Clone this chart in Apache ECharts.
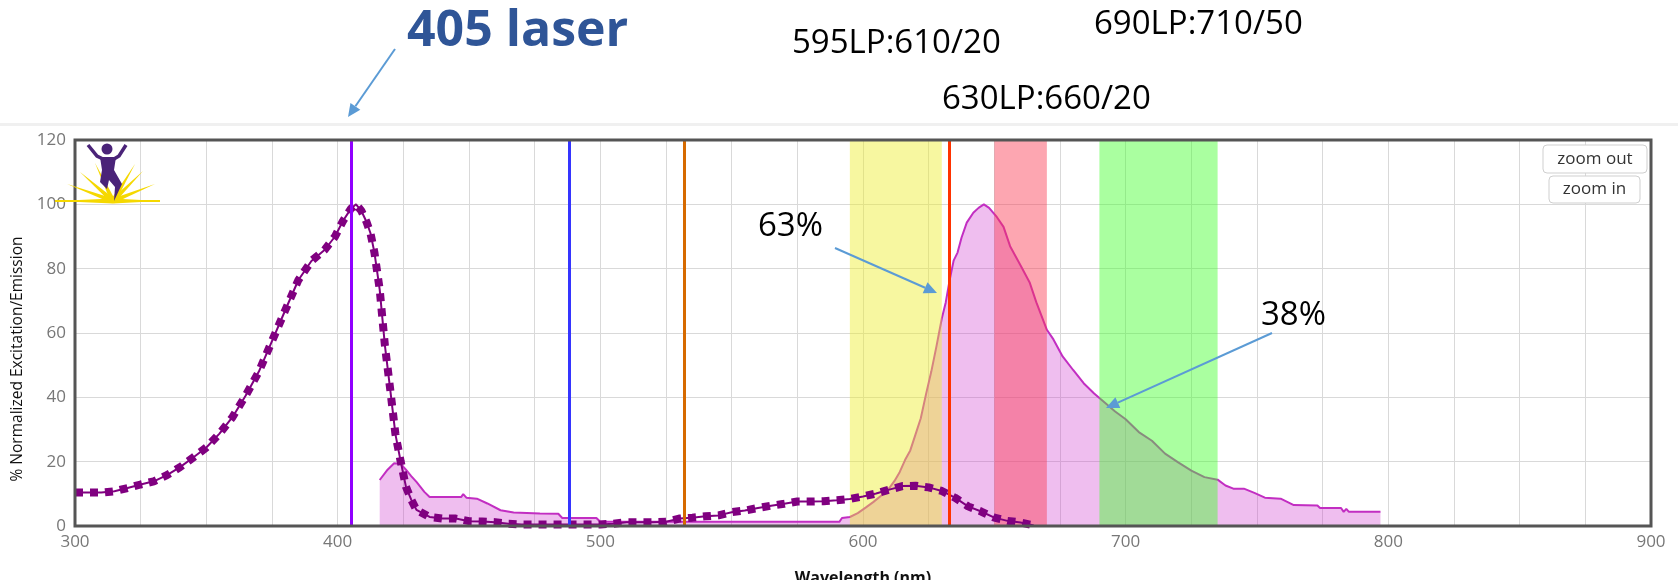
<!DOCTYPE html>
<html lang="en">
<head>
  <meta charset="UTF-8">
  <title>405 laser - excitation / emission</title>
  <script src="https://cdn.jsdelivr.net/npm/echarts@6/dist/echarts.min.js"></script>
  <style>
    html, body { margin: 0; padding: 0; background: #fff; }
    #chart { width: 1678px; height: 580px; }
  </style>
</head>
<body>
  <div id="chart"></div>
  <script>
    // excitation spectrum (dotted purple curve)
    const exWavelength = [300, 305, 310, 315, 320, 325, 330, 335, 340, 345, 350, 355, 360, 365, 370, 375, 380, 385, 390, 395,
      399, 402, 405, 407, 409, 411, 412.5, 414, 416, 418, 420, 422, 424, 426, 428, 430,
      435, 440, 445, 450, 455, 460, 465, 470, 480, 490, 500, 505, 510, 520, 525,
      530, 535, 540, 545, 550, 555, 560, 565, 570, 575, 580, 585, 590, 595, 600, 605, 610, 615, 620, 625, 630, 635, 640, 645, 650, 655, 660, 665];
    const exValue = [10.4, 10.4, 10.4, 10.8, 11.8, 12.9, 13.9, 15.8, 18.3, 21.3, 24.4, 28.7, 33.9, 40.6, 48.0, 57.5, 67.0, 76.4, 82.4, 85.8,
      90.0, 94.8, 98.6, 100, 98, 94.5, 91, 85, 73.5, 56, 42.5, 28.5, 20, 12.2, 8.2, 5.0,
      2.8, 2.3, 2.3, 1.5, 1.4, 1.2, 0.7, 0.5, 0.5, 0.5, 0.5, 0.7, 1.2, 1.2, 1.3,
      2.3, 2.6, 3.0, 3.3, 4.3, 4.8, 5.6, 6.3, 6.9, 7.6, 7.6, 7.7, 8.0, 8.4, 9.2, 10.1, 11.3, 12.4, 12.5, 12.0, 10.9, 8.8, 6.1, 4.5, 2.6, 1.6, 1.1, 0.2];

    // emission spectrum (magenta, filled)
    const emWavelength = [416, 419, 421.5, 424, 426, 428, 430, 433, 435, 447, 447.8, 449, 453, 457, 462, 467, 477, 484, 485.5, 498.5, 500,
      591, 592, 595, 598, 601, 604, 607, 610, 612, 614, 616, 618, 620, 622, 624, 626, 628, 630, 631.5, 633, 634.5, 636, 637.5, 639.5,
      642, 644, 646, 648, 651, 653.5, 656, 660, 663.5, 666, 670, 672.5, 676, 680, 684, 688, 692, 696, 700, 705, 710, 715, 720, 725, 730, 735,
      738, 741, 745, 749, 753, 759, 764, 773, 774, 782, 783, 784, 785, 797];
    const emValue = [14.3, 17.5, 19.5, 19.3, 17.5, 15.5, 13.7, 10.6, 9.0, 9.0, 9.9, 8.8, 8.5, 7.0, 4.9, 4.2, 3.9, 3.8, 2.5, 2.5, 1.3,
      1.3, 2.5, 2.8, 4.0, 5.7, 7.5, 9.5, 11.8, 14, 16.8, 20.5, 23.5, 28.5, 33.5, 41, 48, 56, 64.5, 69.5, 76.5, 82.5, 85, 89.6, 94.3,
      97.4, 98.9, 100, 98.9, 96, 93, 87, 81, 75.6, 69.5, 61, 58, 52.7, 48.5, 44.4, 41.2, 38.4, 35.6, 33.2, 29.2, 26.5, 22.5, 19.8, 17.2, 15.2, 14.4,
      12.6, 11.6, 11.6, 10.3, 8.8, 8.5, 6.5, 6.4, 5.6, 5.6, 4.4, 5.3, 4.4, 4.4];

    // laser lines (nm)
    const laserNm = [405, 488, 532, 633];
    const laserColors = ['#9000ff', '#3535ff', '#d66a00', '#ff3300'];

    // filter bands (nm)
    const bandFrom = [595, 650, 690];
    const bandTo = [630, 670, 735];
    const bandColors = ['rgba(238,238,44,0.45)', 'rgba(251,58,82,0.45)', 'rgba(67,255,44,0.45)'];

    const exData = exWavelength.map((w, i) => [w, exValue[i]]);
    const emData = emWavelength.map((w, i) => [w, emValue[i]]);

    const chart = echarts.init(document.getElementById('chart'));

    // arrow used by the annotations
    function arrow(x1, y1, x2, y2) {
      const dx = x2 - x1, dy = y2 - y1;
      const len = Math.sqrt(dx * dx + dy * dy);
      const ux = dx / len, uy = dy / len;
      const hl = 13, hw = 6;
      const bx = x2 - ux * hl, by = y2 - uy * hl;
      return [
        { type: 'line', z: 100, shape: { x1: x1, y1: y1, x2: bx, y2: by }, style: { stroke: '#5b9bd5', lineWidth: 2 } },
        { type: 'polygon', z: 100, shape: { points: [[x2, y2], [bx - uy * hw, by + ux * hw], [bx + uy * hw, by - ux * hw]] }, style: { fill: '#5b9bd5' } }
      ];
    }

    function note(text, x, y, font, color) {
      return { type: 'text', z: 100, x: x, y: y, style: { text: text, font: font, fill: color || '#000', verticalAlign: 'middle' } };
    }

    function button(text, x, y, w, h) {
      return [
        { type: 'rect', z: 100, shape: { x: x, y: y, width: w, height: h, r: 4 }, style: { fill: '#fff', stroke: '#cfcfcf', lineWidth: 1 } },
        { type: 'text', z: 101, x: x + w / 2, y: y + h / 2, style: { text: text, font: '17px "Open Sans"', fill: '#333', align: 'center', verticalAlign: 'middle' } }
      ];
    }

    // little logo in the corner
    const logo = [];
    const cx = 113, cy = 201;
    [[56, 201], [67, 184], [80, 172], [95, 163], [135, 164], [143, 171], [155, 184], [160, 201]].forEach(t => {
      const dx = t[0] - cx, dy = t[1] - cy;
      const l = Math.sqrt(dx * dx + dy * dy);
      const px = -dy / l * 2.5, py = dx / l * 2.5;
      logo.push({ type: 'polygon', z: 50, shape: { points: [[cx + px, cy + py], [cx - px, cy - py], t] }, style: { fill: '#f5d800' } });
    });
    logo.push({ type: 'line', z: 50, shape: { x1: 55, y1: 201, x2: 160, y2: 201 }, style: { stroke: '#f5d800', lineWidth: 2 } });
    logo.push({ type: 'circle', z: 51, shape: { cx: 107, cy: 149, r: 5.5 }, style: { fill: '#4a2378' } });
    logo.push({ type: 'polyline', z: 51, shape: { points: [[88, 145], [97, 156], [103, 159]] }, style: { stroke: '#4a2378', lineWidth: 3.5, fill: null } });
    logo.push({ type: 'polyline', z: 51, shape: { points: [[126, 145], [119, 156], [114, 159]] }, style: { stroke: '#4a2378', lineWidth: 3.5, fill: null } });
    logo.push({ type: 'polygon', z: 51, shape: { points: [[100, 157], [116, 157], [114, 170], [122, 184], [114, 201], [115, 187], [109, 180], [107, 189], [100, 182], [102, 170]] }, style: { fill: '#4a2378' } });

    const option = {
      backgroundColor: '#fff',
      animation: false,
      grid: {
        left: 75, right: 27, top: 140, bottom: 54,
        show: true, borderColor: '#555', borderWidth: 3, z: 10,
        outerBoundsMode: 'none'
      },
      xAxis: {
        type: 'value',
        min: 300, max: 900, interval: 25,
        name: 'Wavelength (nm)',
        nameLocation: 'middle',
        nameGap: 44,
        nameTextStyle: { fontSize: 16, fontWeight: 'bold', color: '#111', fontFamily: 'Open Sans' },
        axisLine: { show: false },
        axisTick: { show: false },
        axisLabel: {
          color: '#777', fontSize: 17, fontFamily: 'Open Sans', margin: 8,
          formatter: v => (v % 100 === 0 ? String(v) : '')
        },
        splitLine: { show: true, lineStyle: { color: '#d9d9d9', width: 1 } }
      },
      yAxis: {
        type: 'value',
        min: 0, max: 120, interval: 20,
        name: '% Normalized Excitation/Emission',
        nameLocation: 'middle',
        nameRotate: 90,
        nameGap: 48,
        nameTextStyle: { fontSize: 15.5, color: '#111', fontFamily: 'Open Sans', padding: [0, 52, 0, 0] },
        axisLine: { show: false },
        axisTick: { show: false },
        axisLabel: { color: '#777', fontSize: 17, fontFamily: 'Open Sans', margin: 9 },
        splitLine: { show: true, lineStyle: { color: '#d9d9d9', width: 1 } }
      },
      series: [
        {
          name: 'Emission',
          type: 'line',
          z: 2,
          data: emData,
          symbol: 'none',
          lineStyle: { color: '#c22ec2', width: 2 },
          areaStyle: { color: 'rgba(204,51,204,0.45)', origin: 'start' },
          markArea: {
            z: 3,
            silent: true,
            data: bandFrom.map((f, i) => [
              { xAxis: f, itemStyle: { color: bandColors[i] } },
              { xAxis: bandTo[i] }
            ])
          }
        },
        {
          name: 'Excitation',
          type: 'line',
          z: 4,
          data: exData,
          symbol: 'none',
          lineStyle: { color: '#800080', width: 2 }
        },
        {
          name: 'Excitation dots',
          type: 'line',
          z: 4,
          data: exData,
          symbol: 'none',
          lineStyle: { color: '#800080', width: 8, type: [8, 7] },
          markLine: {
            silent: true,
            z: 6,
            symbol: ['none', 'none'],
            label: { show: false },
            data: laserNm.map((nm, i) => ({ xAxis: nm, lineStyle: { color: laserColors[i], width: 3, type: 'solid' } }))
          }
        }
      ],
      graphic: [
        { type: 'rect', z: 0, shape: { x: 0, y: 123, width: 1678, height: 3 }, style: { fill: '#f0f0f0' } },
        note('405 laser', 407, 32, 'bold 50px "Open Sans"', '#2f5597'),
        note('595LP:610/20', 792, 43.5, '33px "Open Sans"'),
        note('690LP:710/50', 1094, 25, '33px "Open Sans"'),
        note('630LP:660/20', 942, 99.5, '33px "Open Sans"'),
        note('63%', 758, 227, '33px "Open Sans"'),
        note('38%', 1261, 315.5, '33px "Open Sans"'),
        ...arrow(395, 49, 348, 117),
        ...arrow(835, 248, 937, 293),
        ...arrow(1272, 333, 1106, 408),
        ...button('zoom out', 1543, 145, 104, 28),
        ...button('zoom in', 1549, 176, 91, 27),
        ...logo
      ]
    };

    chart.setOption(option);
  </script>
</body>
</html>
